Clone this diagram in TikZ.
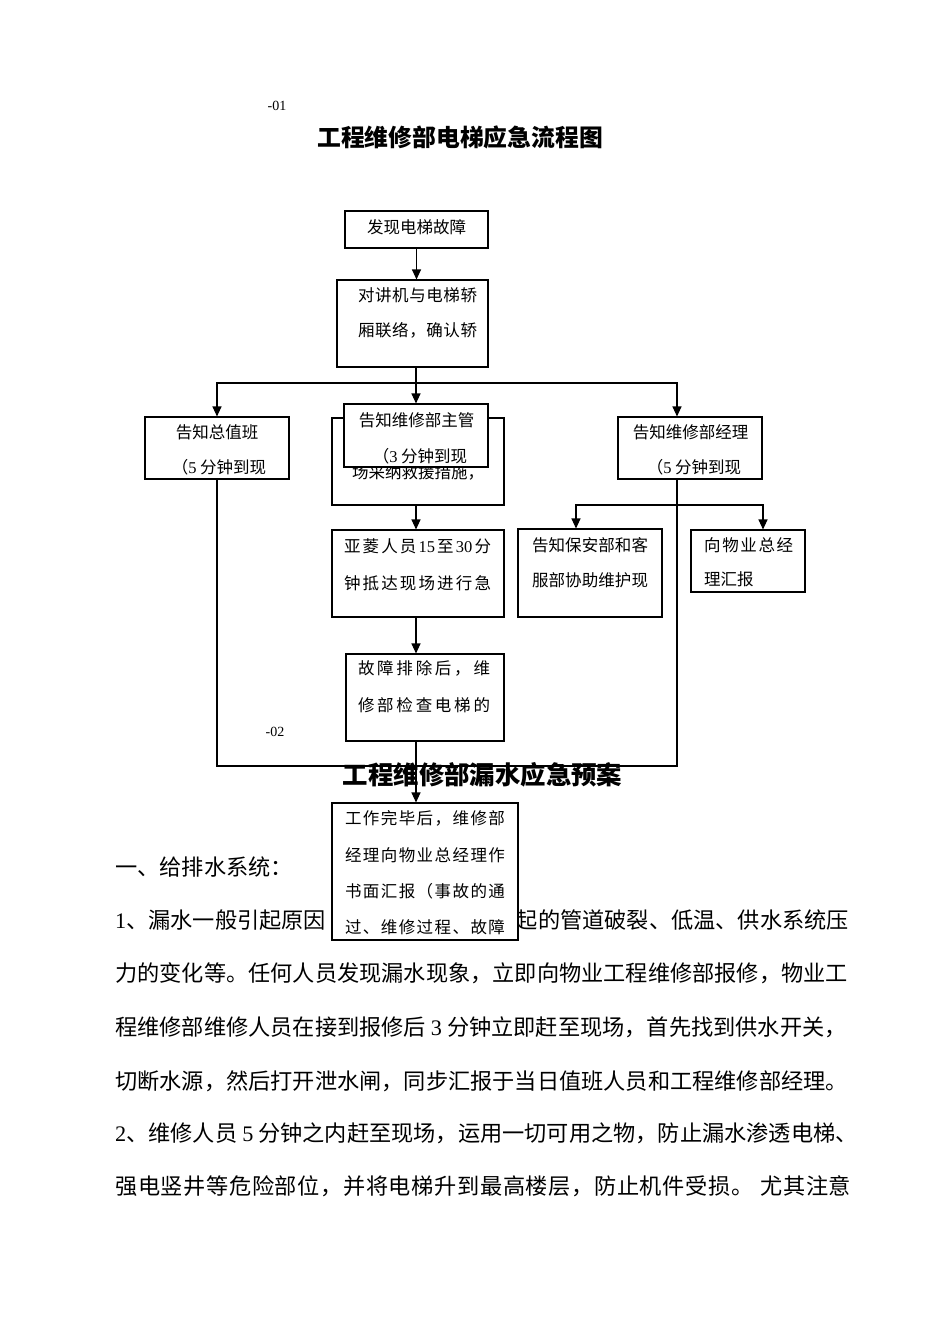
\documentclass[tikz,border=0pt]{standalone}
\usepackage{fontspec}
\setmainfont{Liberation Serif}
\newfontfamily\cjk{Noto Sans CJK SC}
\usetikzlibrary{arrows.meta}
\newcommand\dg[1]{{\rmfamily #1}}
\def\spreadloop#1{\ifx\relax#1\else{#1}\hfil\expandafter\spreadloop\fi}
\newcommand\spreadbox[2]{\makebox[#1][s]{\spreadloop#2\relax\unskip}}
\tikzset{
  box/.style={draw, line width=1.1pt, fill=white, inner sep=0pt},
  conn/.style={line width=1.1pt},
  arr/.style={conn, -{Triangle[length=10pt,width=9pt]}},
  bt/.style={font=\fontsize{16.5}{18}\selectfont\cjk, inner sep=0pt},
  body/.style={font=\fontsize{22.2}{26}\selectfont\cjk, inner sep=0pt, anchor=west},
  bodyr/.style={font=\fontsize{22.2}{26}\selectfont\cjk, inner sep=0pt, anchor=east},
  small/.style={font=\fontsize{14}{16}\selectfont, inner sep=0pt},
}
\begin{document}
\begin{tikzpicture}[x=1pt,y=-1pt]
\useasboundingbox (0,0) rectangle (950,1344);
\fill[white] (0,0) rectangle (950,1344);

% headings
\node[small] (n01) at (277,106) {-01};
\node[font=\fontsize{23.8}{26}\selectfont\cjk\bfseries, inner sep=0pt] (t1) at (460,137) {工程维修部电梯应急流程图};
\node[small] (n02) at (275,732) {-02};
\node[font=\fontsize{25.4}{28}\selectfont\cjk\bfseries, inner sep=0pt] (t2) at (482.5,775) {工程维修部漏水应急预案};

% body text
\node[body] (l0) at (115,867) {一、给排水系统：};
\node[body] (l1a) at (115,920) {\dg{1}、漏水一般引起原因};
\node[bodyr] (l1b) at (849,920) {起的管道破裂、低温、供水系统压};
\node[body] (l2) at (115,973) {力的变化等。任何人员发现漏水现象，立即向物业工程维修部报修，物业工};
\node[body] (l3) at (115,1027) {程维修部维修人员在接到报修后 \dg{3} 分钟立即赶至现场，首先找到供水开关，};
\node[body] (l4) at (115,1081) {切断水源，然后打开泄水闸，同步汇报于当日值班人员和工程维修部经理。};
\node[body] (l5) at (115,1133) {\dg{2}、维修人员 \dg{5} 分钟之内赶至现场，运用一切可用之物，防止漏水渗透电梯、};
\node[body] (l6) at (115,1186) {\spreadbox{736pt}{强电竖井等危险部位，并将电梯升到最高楼层，防止机件受损。{\hspace{6pt}}尤其注意}};

% boxes
\node[box, minimum width=143pt, minimum height=37pt] (b1) at (416.5,229.5) {};
\node[bt] (b1t) at (416.5,227) {发现电梯故障};

\node[box, minimum width=151pt, minimum height=87pt] (b2) at (412.5,323.5) {};
\node[bt] (b2t1) at (417.5,295) {\spreadbox{119pt}{对讲机与电梯轿}};
\node[bt] (b2t2) at (417.5,330) {\spreadbox{119pt}{厢联络，确认轿}};

\node[box, minimum width=144pt, minimum height=62pt] (b3) at (217,448) {};
\node[bt] (b3t1) at (217,432) {告知总值班};
\node[bt] (b3t2) at (219,467) {（\dg{5} 分钟到现};

\node[box, minimum width=172pt, minimum height=87pt] (b4h) at (418,461.5) {};
\node[bt] (b4ht) at (418,472) {场采纳救援措施，};

\node[box, minimum width=144pt, minimum height=63pt] (b4) at (416,435.5) {};
\node[bt] (b4t1) at (416.5,420) {告知维修部主管};
\node[bt] (b4t2) at (420,456) {（\dg{3} 分钟到现};

\node[box, minimum width=144pt, minimum height=62pt] (b5) at (690,448) {};
\node[bt] (b5t1) at (690.5,432) {告知维修部经理};
\node[bt] (b5t2) at (694,467) {（\dg{5} 分钟到现};

\node[box, minimum width=172pt, minimum height=87pt] (b6) at (418,573.5) {};
\node[bt] (b6t1) at (417.5,546) {\spreadbox{147pt}{亚菱人员{\dg{15}}至{\dg{30}}分}};
\node[bt] (b6t2) at (417.5,583) {\spreadbox{147pt}{钟抵达现场进行急}};

\node[box, minimum width=144pt, minimum height=88pt] (b7) at (590,573) {};
\node[bt] (b7t1) at (590,545) {\spreadbox{116pt}{告知保安部和客}};
\node[bt] (b7t2) at (590,580) {\spreadbox{116pt}{服部协助维护现}};

\node[box, minimum width=114pt, minimum height=62pt] (b8) at (748,561) {};
\node[bt, anchor=west] (b8t1) at (704,545) {\spreadbox{89pt}{向物业总经}};
\node[bt, anchor=west] (b8t2) at (704,579) {理汇报};

\node[box, minimum width=158pt, minimum height=87pt] (b9) at (425,697.5) {};
\node[bt] (b9t1) at (424,668) {\spreadbox{132pt}{故障排除后，维}};
\node[bt] (b9t2) at (424,705) {\spreadbox{132pt}{修部检查电梯的}};

\node[box, minimum width=186pt, minimum height=137pt] (b10) at (425,871.5) {};
\node[bt] (b10t1) at (425,818) {\spreadbox{160pt}{工作完毕后，维修部}};
\node[bt] (b10t2) at (425,855) {\spreadbox{160pt}{经理向物业总经理作}};
\node[bt] (b10t3) at (425,891) {\spreadbox{160pt}{书面汇报（事故的通}};
\node[bt] (b10t4) at (425,927) {\spreadbox{160pt}{过、维修过程、故障}};

% connectors
\coordinate (j1) at (416,383);
\coordinate (r1) at (677,383);
\coordinate (lb) at (217,766);
\coordinate (rb) at (677,766);
\coordinate (k1) at (677,505);
\coordinate (k2) at (576,505);
\coordinate (k3) at (763,505);

\draw[arr] (b1.south) -- (b1.south |- b2.north);
\draw[conn] (b2.south -| j1) -- (j1);
\draw[arr] (j1) -- (j1 |- b4.north);
\draw[arr] (j1) -| (b3.north);
\draw[arr] (j1) -| (r1 |- b5.north);
\draw[arr] (b4h.south -| j1) -- (b6.north -| j1);
\draw[arr] (b6.south -| j1) -- (b9.north -| j1);
\draw[arr] (b9.south -| j1) -- (b10.north -| j1);
\draw[conn] (b3.south) -- (lb) -- (rb) -- (r1 |- b5.south);
\draw[arr] (k1) -- (k2) -- (k2 |- b7.north);
\draw[arr] (k1) -- (k3) -- (k3 |- b8.north);
\end{tikzpicture}
\end{document}
